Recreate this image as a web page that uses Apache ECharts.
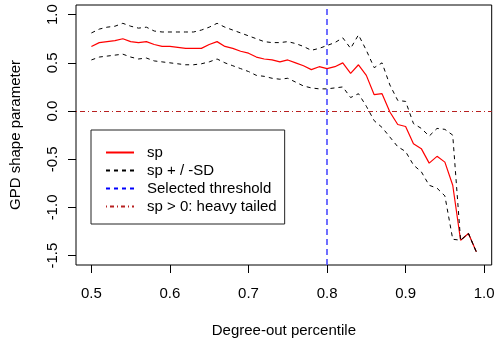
<!DOCTYPE html>
<html>
<head>
<meta charset="utf-8">
<script src="https://cdn.jsdelivr.net/npm/echarts@6/dist/echarts.min.js"></script>
<style>
html, body { margin: 0; padding: 0; background: #fff; }
#main { width: 500px; height: 345px; }
</style>
</head>
<body>
<div id="main"></div>
<script>
// degree-out percentiles
var percentiles = [0.50, 0.51, 0.52, 0.53, 0.54, 0.55, 0.56, 0.57, 0.58, 0.59,
    0.60, 0.61, 0.62, 0.63, 0.64, 0.65, 0.66, 0.67, 0.68, 0.69,
    0.70, 0.71, 0.72, 0.73, 0.74, 0.75, 0.76, 0.77, 0.78, 0.79,
    0.80, 0.81, 0.82, 0.83, 0.84, 0.85, 0.86, 0.87, 0.88, 0.89,
    0.90, 0.91, 0.92, 0.93, 0.94, 0.95, 0.96, 0.97, 0.98, 0.99];
// GPD shape parameter
var sp = [0.67, 0.71, 0.72, 0.73, 0.75, 0.72, 0.71, 0.72, 0.69, 0.67,
    0.67, 0.66, 0.65, 0.65, 0.65, 0.69, 0.72, 0.67, 0.65, 0.62,
    0.60, 0.56, 0.54, 0.53, 0.51, 0.53, 0.50, 0.47, 0.43, 0.46,
    0.44, 0.46, 0.50, 0.39, 0.48, 0.37, 0.17, 0.18, -0.01, -0.14,
    -0.16, -0.34, -0.39, -0.54, -0.47, -0.53, -0.77, -1.34, -1.27, -1.46];
// sp + SD
var spUpper = [0.81, 0.85, 0.87, 0.88, 0.91, 0.88, 0.86, 0.87, 0.83, 0.82,
    0.82, 0.82, 0.82, 0.82, 0.84, 0.87, 0.91, 0.87, 0.84, 0.81,
    0.78, 0.75, 0.72, 0.71, 0.71, 0.72, 0.70, 0.67, 0.63, 0.65,
    0.68, 0.71, 0.76, 0.65, 0.79, 0.63, 0.45, 0.50, 0.27, 0.11,
    0.10, -0.13, -0.18, -0.26, -0.18, -0.19, -0.25, -1.34, -1.27, -1.46];
// sp - SD
var spLower = [0.53, 0.56, 0.57, 0.58, 0.59, 0.56, 0.54, 0.55, 0.52, 0.51,
    0.50, 0.49, 0.48, 0.48, 0.49, 0.51, 0.54, 0.50, 0.47, 0.44,
    0.41, 0.37, 0.36, 0.34, 0.33, 0.34, 0.30, 0.26, 0.24, 0.23,
    0.23, 0.24, 0.25, 0.14, 0.18, 0.05, -0.10, -0.17, -0.27, -0.37,
    -0.42, -0.56, -0.63, -0.77, -0.80, -0.88, -1.33, -1.34, -1.27, -1.46];
var xTicks = [0.5, 0.6, 0.7, 0.8, 0.9, 1.0];
var yTicks = [-1.5, -1.0, -0.5, 0.0, 0.5, 1.0];
var threshold = 0.8;
var heavyTail = 0;

function pairs(xs, ys) {
    return xs.map(function (x, i) { return [x, ys[i]]; });
}

var font = "'Liberation Sans', Arial, sans-serif";

var myChart = echarts.init(document.getElementById('main'));
myChart.setOption({
    animation: false,
    textStyle: { fontFamily: font },
    grid: {
        left: 75.7, right: 8.3, top: 5, bottom: 80,
        show: true, borderColor: '#000', borderWidth: 1
    },
    legend: {
        orient: 'vertical',
        left: 91, top: 130,
        padding: [15, 8, 10, 14],
        borderColor: '#222', borderWidth: 1,
        itemWidth: 28, itemHeight: 10, itemGap: 3,
        // hide the circle ECharts puts on line icons
        itemStyle: { opacity: 0 },
        textStyle: { fontSize: 15, color: '#000', lineHeight: 15, padding: [0, 0, 0, 8], fontFamily: font },
        data: ['sp', 'sp + / -SD', 'Selected threshold', 'sp > 0: heavy tailed']
    },
    xAxis: {
        type: 'value',
        min: 0.4804, max: 1.0096,
        name: 'Degree-out percentile',
        nameLocation: 'middle', nameGap: 58,
        nameTextStyle: { fontSize: 15, color: '#000', fontFamily: font },
        axisLine: { show: false, onZero: false },
        axisTick: { show: true, length: 8, customValues: xTicks, lineStyle: { color: '#000' } },
        axisLabel: {
            customValues: xTicks, margin: 21, fontSize: 15, color: '#000', fontFamily: font,
            formatter: function (v) { return v.toFixed(1); }
        },
        splitLine: { show: false }
    },
    yAxis: {
        type: 'value',
        min: -1.597, max: 1.10,
        name: 'GPD shape parameter',
        nameLocation: 'middle', nameGap: 53,
        nameTextStyle: { fontSize: 15, color: '#000', fontFamily: font },
        axisLine: { show: false, onZero: false },
        axisTick: { show: true, length: 8, customValues: yTicks, lineStyle: { color: '#000' } },
        axisLabel: {
            customValues: yTicks, margin: 16, rotate: 90,
            align: 'center', verticalAlign: 'bottom',
            fontSize: 15, color: '#000', fontFamily: font,
            formatter: function (v) { return v.toFixed(1); }
        },
        splitLine: { show: false }
    },
    series: [
        {
            name: 'sp', type: 'line', symbol: 'none', z: 2,
            data: pairs(percentiles, sp),
            itemStyle: { color: '#ff0000' },
            lineStyle: { color: '#ff0000', width: 1.2 }
        },
        {
            name: 'sp + / -SD', type: 'line', symbol: 'none', z: 3,
            data: pairs(percentiles, spUpper),
            itemStyle: { color: '#000' },
            lineStyle: { color: '#000', width: 1, type: [4, 4] }
        },
        {
            name: 'sp + / -SD', type: 'line', symbol: 'none', z: 3,
            data: pairs(percentiles, spLower),
            itemStyle: { color: '#000' },
            lineStyle: { color: '#000', width: 1, type: [4, 4] }
        },
        {
            name: 'Selected threshold', type: 'line', symbol: 'none', z: 4,
            data: [],
            itemStyle: { color: '#0000ff' },
            lineStyle: { color: '#0000ff', width: 1, type: [4, 4] },
            markLine: {
                silent: true, symbol: 'none', label: { show: false },
                lineStyle: { color: '#4b4bff', width: 1.6, type: [6, 4] },
                data: [{ xAxis: threshold }]
            }
        },
        {
            name: 'sp > 0: heavy tailed', type: 'line', symbol: 'none', z: 4,
            data: [],
            itemStyle: { color: '#b82020' },
            lineStyle: { color: '#b82020', width: 1, type: [1, 3, 4, 3] },
            markLine: {
                silent: true, symbol: 'none', label: { show: false },
                lineStyle: { color: '#b82020', width: 1.2, type: [1, 3, 5, 3] },
                data: [{ yAxis: heavyTail }]
            }
        }
    ]
});
</script>
</body>
</html>
